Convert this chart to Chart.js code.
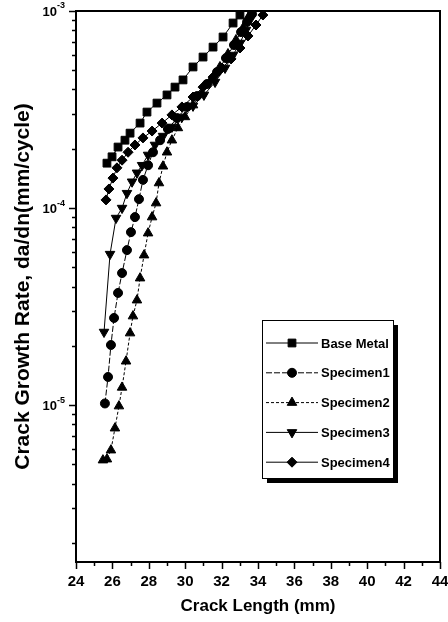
<!DOCTYPE html>
<html>
<head>
<meta charset="utf-8">
<script src="https://cdn.jsdelivr.net/npm/chart.js@4.4.0/dist/chart.umd.min.js"></script>
<style>
  html, body { margin: 0; padding: 0; background: #fff; }
  #wrap { width: 448px; height: 622px; position: relative; }
</style>
</head>
<body>
<div id="wrap"><canvas id="myChart"></canvas></div>
<script>
// crack length (mm) and da/dn (mm/cycle)
const baseX = [25.70, 25.98, 26.31, 26.69, 26.97, 27.52, 27.90, 28.45, 29.00, 29.44, 29.88, 30.43, 30.98, 31.53, 32.08, 32.63, 33.01];
const baseY = [1.69e-4, 1.82e-4, 2.04e-4, 2.21e-4, 2.40e-4, 2.70e-4, 3.07e-4, 3.41e-4, 3.75e-4, 4.11e-4, 4.47e-4, 5.20e-4, 5.84e-4, 6.56e-4, 7.38e-4, 8.69e-4, 9.54e-4];

const spec1X = [25.59, 25.76, 25.92, 26.09, 26.31, 26.53, 26.80, 27.02, 27.24, 27.46, 27.68, 27.96, 28.23, 28.62, 29.05, 29.55, 30.10, 30.65, 31.20, 31.75, 32.24, 32.68, 33.07, 33.40, 33.67];
const spec1Y = [1.02e-5, 1.39e-5, 2.02e-5, 2.77e-5, 3.71e-5, 4.68e-5, 6.12e-5, 7.55e-5, 9.0e-5, 1.11e-4, 1.39e-4, 1.65e-4, 1.92e-4, 2.21e-4, 2.52e-4, 2.86e-4, 3.26e-4, 3.70e-4, 4.26e-4, 4.90e-4, 5.77e-4, 6.72e-4, 7.82e-4, 8.80e-4, 9.66e-4];

const spec2X = [25.48, 25.70, 25.92, 26.14, 26.36, 26.53, 26.75, 26.97, 27.13, 27.35, 27.52, 27.74, 27.96, 28.18, 28.40, 28.56, 28.78, 29.00, 29.27, 29.60, 29.99, 30.43, 30.92, 31.42, 31.91, 32.35, 32.79, 33.18, 33.51];
const spec2Y = [5.26e-6, 5.32e-6, 5.91e-6, 7.64e-6, 9.89e-6, 1.23e-5, 1.67e-5, 2.32e-5, 2.83e-5, 3.41e-5, 4.41e-5, 5.77e-5, 7.46e-5, 9.0e-5, 1.06e-4, 1.34e-4, 1.63e-4, 1.92e-4, 2.21e-4, 2.55e-4, 2.90e-4, 3.33e-4, 3.83e-4, 4.47e-4, 5.20e-4, 6.05e-4, 7.13e-4, 8.20e-4, 9.43e-4];

const spec3X = [25.54, 25.87, 26.20, 26.53, 26.80, 27.08, 27.35, 27.63, 27.96, 28.34, 28.78, 29.27, 29.82, 30.43, 31.03, 31.64, 32.19, 32.63, 33.01, 33.34, 33.62];
const spec3Y = [2.35e-5, 5.84e-5, 8.9e-5, 1.0e-4, 1.19e-4, 1.36e-4, 1.51e-4, 1.65e-4, 1.86e-4, 2.09e-4, 2.32e-4, 2.58e-4, 2.90e-4, 3.30e-4, 3.75e-4, 4.36e-4, 5.14e-4, 5.98e-4, 6.88e-4, 8.01e-4, 9.21e-4];

const spec4X = [25.65, 25.81, 26.03, 26.25, 26.53, 26.86, 27.24, 27.68, 28.18, 28.73, 29.27, 29.82, 30.43, 30.98, 31.53, 32.02, 32.52, 33.01, 33.45, 33.89, 34.27];
const spec4Y = [1.10e-4, 1.25e-4, 1.42e-4, 1.60e-4, 1.75e-4, 1.92e-4, 2.09e-4, 2.27e-4, 2.46e-4, 2.70e-4, 2.97e-4, 3.26e-4, 3.66e-4, 4.11e-4, 4.62e-4, 5.14e-4, 5.71e-4, 6.49e-4, 7.47e-4, 8.49e-4, 9.54e-4];

const seriesNames = ['Base Metal', 'Specimen1', 'Specimen2', 'Specimen3', 'Specimen4'];
const yLabelExps = [-5, -4, -3];
const xTickStep = 2;

const FONT = '"Liberation Sans", Arial, sans-serif';

const pts = (xs, ys) => xs.map((v, i) => ({ x: v, y: ys[i] }));

function ds(label, data, style, radius, rot, dash, width) {
    return {
        label: label,
        data: data,
        borderColor: '#000',
        backgroundColor: '#000',
        pointBackgroundColor: '#000',
        pointBorderColor: '#000',
        pointStyle: style,
        pointRadius: radius,
        pointRotation: rot,
        borderWidth: width,
        borderDash: dash,
        tension: 0
    };
}

// frame, outward ticks, superscript labels on y, boxed legend with shadow
const decorPlugin = {
    id: 'decor',
    afterDraw(chart) {
        const ctx = chart.ctx;
        const { left, top, right, bottom } = chart.chartArea;
        const x = chart.scales.x, y = chart.scales.y;
        ctx.save();
        ctx.strokeStyle = '#000';
        ctx.lineWidth = 2;
        ctx.strokeRect(left, top, right - left, bottom - top);

        ctx.lineWidth = 1.5;
        ctx.beginPath();
        for (let v = x.min; v <= x.max; v += 1) {
            const px = Math.round(x.getPixelForValue(v)) + 0.5;
            const len = (v % 2 === 0) ? 7 : 4;
            ctx.moveTo(px, bottom);
            ctx.lineTo(px, bottom + len);
        }
        for (let e = -6; e <= -3; e++) {
            for (let m = 1; m <= 9; m++) {
                const v = m * Math.pow(10, e);
                if (v < y.min || v > y.max * 1.0001) continue;
                const py = Math.round(y.getPixelForValue(v)) + 0.5;
                const len = m === 1 ? 7 : 4;
                ctx.moveTo(left - len, py);
                ctx.lineTo(left, py);
            }
        }
        ctx.stroke();

        // y labels 10^n
        ctx.fillStyle = '#000';
        ctx.textBaseline = 'middle';
        yLabelExps.forEach(e => {
            const py = y.getPixelForValue(Math.pow(10, e));
            const ex = String(e);
            ctx.font = 'bold 9px ' + FONT;
            const ew = ctx.measureText(ex).width;
            ctx.textAlign = 'left';
            ctx.fillText(ex, 65 - ew, py - 5);
            ctx.font = 'bold 13px ' + FONT;
            ctx.textAlign = 'right';
            ctx.fillText('10', 65 - ew, py + 1);
        });

        // legend
        const bx = 262, by = 320, bw = 131, bh = 158;
        ctx.fillStyle = '#000';
        ctx.fillRect(bx + 5, by + 5, bw, bh);
        ctx.fillStyle = '#fff';
        ctx.fillRect(bx, by, bw, bh);
        ctx.lineWidth = 1;
        ctx.strokeRect(bx + 0.5, by + 0.5, bw, bh);
        chart.data.datasets.forEach((d, i) => {
            const ry = 343 + i * 29.8;
            ctx.save();
            ctx.strokeStyle = '#000';
            ctx.lineWidth = d.borderWidth;
            ctx.setLineDash(d.borderDash || []);
            ctx.beginPath();
            ctx.moveTo(266, ry);
            ctx.lineTo(318, ry);
            ctx.stroke();
            ctx.restore();
            ctx.fillStyle = '#000';
            Chart.helpers.drawPoint(ctx, {
                pointStyle: d.pointStyle,
                rotation: d.pointRotation,
                radius: d.pointRadius,
                borderWidth: 1
            }, 292, ry);
            ctx.fillStyle = '#000';
            ctx.font = 'bold 13px ' + FONT;
            ctx.textAlign = 'left';
            ctx.textBaseline = 'middle';
            ctx.fillText(d.label, 321, ry + 1);
        });
        ctx.restore();
    }
};

const ctx = document.getElementById('myChart').getContext('2d');
const myChart = new Chart(ctx, {
    type: 'line',
    data: {
        datasets: [
            ds(seriesNames[0], pts(baseX, baseY), 'rect', 5.5, 0, [], 1),
            ds(seriesNames[1], pts(spec1X, spec1Y), 'circle', 4.5, 0, [6, 2], 1),
            ds(seriesNames[2], pts(spec2X, spec2Y), 'triangle', 5.5, 0, [3, 2], 1),
            ds(seriesNames[3], pts(spec3X, spec3Y), 'triangle', 5.5, 180, [], 1),
            ds(seriesNames[4], pts(spec4X, spec4Y), 'rectRot', 5, 0, [], 1)
        ]
    },
    options: {
        responsive: true,
        maintainAspectRatio: false,
        animation: false,
        layout: { padding: { top: 11, right: 8, left: 0, bottom: 0 } },
        plugins: { legend: { display: false }, tooltip: { enabled: false } },
        scales: {
            x: {
                type: 'linear',
                min: 24,
                max: 44,
                afterFit: s => { s.height = 60; s.paddingLeft = 0; s.paddingRight = 0; },
                border: { display: false },
                grid: { display: false },
                ticks: {
                    stepSize: xTickStep,
                    color: '#000',
                    padding: 3,
                    font: { family: FONT, size: 15, weight: 'bold' }
                },
                title: {
                    display: true,
                    text: 'Crack Length (mm)',
                    color: '#000',
                    font: { family: FONT, size: 17, weight: 'bold' },
                    padding: { top: 0, bottom: 5 }
                }
            },
            y: {
                type: 'logarithmic',
                min: 1.6e-6,
                max: 1e-3,
                afterFit: s => { s.width = 76; s.paddingTop = 0; s.paddingBottom = 0; },
                afterBuildTicks: s => { s.ticks = yLabelExps.map(e => ({ value: Math.pow(10, e) })); },
                border: { display: false },
                grid: { display: false },
                ticks: { display: false },
                title: {
                    display: true,
                    text: 'Crack Growth Rate, da/dn(mm/cycle)',
                    color: '#000',
                    font: { family: FONT, size: 21, weight: 'bold' },
                    padding: { top: 11, bottom: 0 }
                }
            }
        }
    },
    plugins: [decorPlugin]
});
</script>
</body>
</html>
